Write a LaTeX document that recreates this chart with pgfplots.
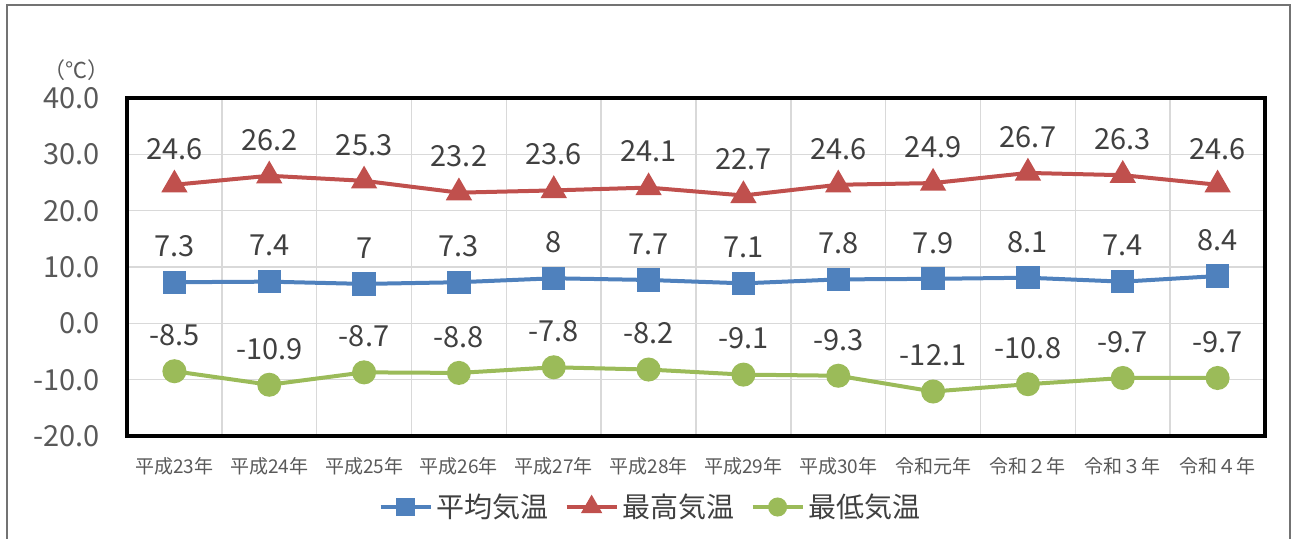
\documentclass[border=0pt]{standalone}
\usepackage{fontspec}
\setmainfont{Noto Sans CJK JP}
\usepackage{pgfplots}
\pgfplotsset{compat=1.18}
\definecolor{avgc}{HTML}{4F81BD}
\definecolor{maxc}{HTML}{C0504D}
\definecolor{minc}{HTML}{9BBB59}
\definecolor{gridc}{HTML}{D9D9D9}
\definecolor{tickc}{HTML}{595959}
\definecolor{labc}{HTML}{404040}

\begin{document}
\begin{tikzpicture}[x=1pt,y=1pt]
\path[use as bounding box] (-63.5,-51) rectangle (583,218);
\draw[black!55, line width=0.8pt] (-60,-53) -- (-60,215.5) -- (581.5,215.5) -- (581.5,-53);
\begin{axis}[
    at={(0,0)}, anchor=south west,
    scale only axis,
    width=569pt, height=169pt,
    xmin=-0.5, xmax=11.5,
    ymin=-20, ymax=40,
    xtick={0,...,11},
    xticklabels={平成23年,平成24年,平成25年,平成26年,平成27年,平成28年,平成29年,平成30年,令和元年,令和２年,令和３年,令和４年},
    minor xtick={0.5,1.5,...,10.5},
    ytick={-20,-10,0,10,20,30,40},
    yticklabels={-20.0,-10.0,0.0,10.0,20.0,30.0,40.0},
    xminorgrids, ymajorgrids,
    grid style={gridc, line width=0.75pt},
    minor grid style={gridc, line width=0.75pt},
    major tick length=0pt, minor tick length=0pt,
    axis line style={black, line width=2pt},
    xticklabel style={font=\fontsize{9.5}{11}\selectfont, text=tickc, yshift=-7pt},
    yticklabel style={font=\fontsize{14.5}{16}\selectfont, text=tickc, xshift=-10pt},
    clip=false,
    nodes near coords,
    point meta=explicit symbolic,
    every node near coord/.append style={font=\fontsize{14.5}{16}\selectfont, text=labc, anchor=center, yshift=18pt},
    legend columns=3,
    legend style={draw=none, fill=none, font=\fontsize{14}{16}\selectfont, text=labc,
        at={(axis description cs:0.461,0)}, anchor=center, yshift=-35.5pt,
        /tikz/every even column/.append style={column sep=6pt}},
    legend image code/.code={\draw[mark repeat=2,mark phase=2,#1,mark options={scale=0.75}] plot coordinates {(0pt,0pt) (12.5pt,0pt) (25pt,0pt)};},
]
\addplot[avgc, line width=2pt, mark=square*, mark size=4.8pt, mark options={solid}] coordinates {
(0,7.3) [7.3] (1,7.4) [7.4] (2,7.0) [7] (3,7.3) [7.3] (4,8.0) [8] (5,7.7) [7.7]
(6,7.1) [7.1] (7,7.8) [7.8] (8,7.9) [7.9] (9,8.1) [8.1] (10,7.4) [7.4] (11,8.4) [8.4]};
\addlegendentry{平均気温}
\addplot[maxc, line width=2pt, mark=triangle*, mark size=5.6pt, mark options={solid}] coordinates {
(0,24.6) [24.6] (1,26.2) [26.2] (2,25.3) [25.3] (3,23.2) [23.2] (4,23.6) [23.6] (5,24.1) [24.1]
(6,22.7) [22.7] (7,24.6) [24.6] (8,24.9) [24.9] (9,26.7) [26.7] (10,26.3) [26.3] (11,24.6) [24.6]};
\addlegendentry{最高気温}
\addplot[minc, line width=2pt, mark=*, mark size=5pt, mark options={solid}] coordinates {
(0,-8.5) [-8.5] (1,-10.9) [-10.9] (2,-8.7) [-8.7] (3,-8.8) [-8.8] (4,-7.8) [-7.8] (5,-8.2) [-8.2]
(6,-9.1) [-9.1] (7,-9.3) [-9.3] (8,-12.1) [-12.1] (9,-10.8) [-10.8] (10,-9.7) [-9.7] (11,-9.7) [-9.7]};
\addlegendentry{最低気温}
\node[font=\fontsize{11}{13}\selectfont, text=tickc] at (axis description cs:0,1) [xshift=-25pt, yshift=14pt] {（℃）};
\end{axis}
\end{tikzpicture}
\end{document}
